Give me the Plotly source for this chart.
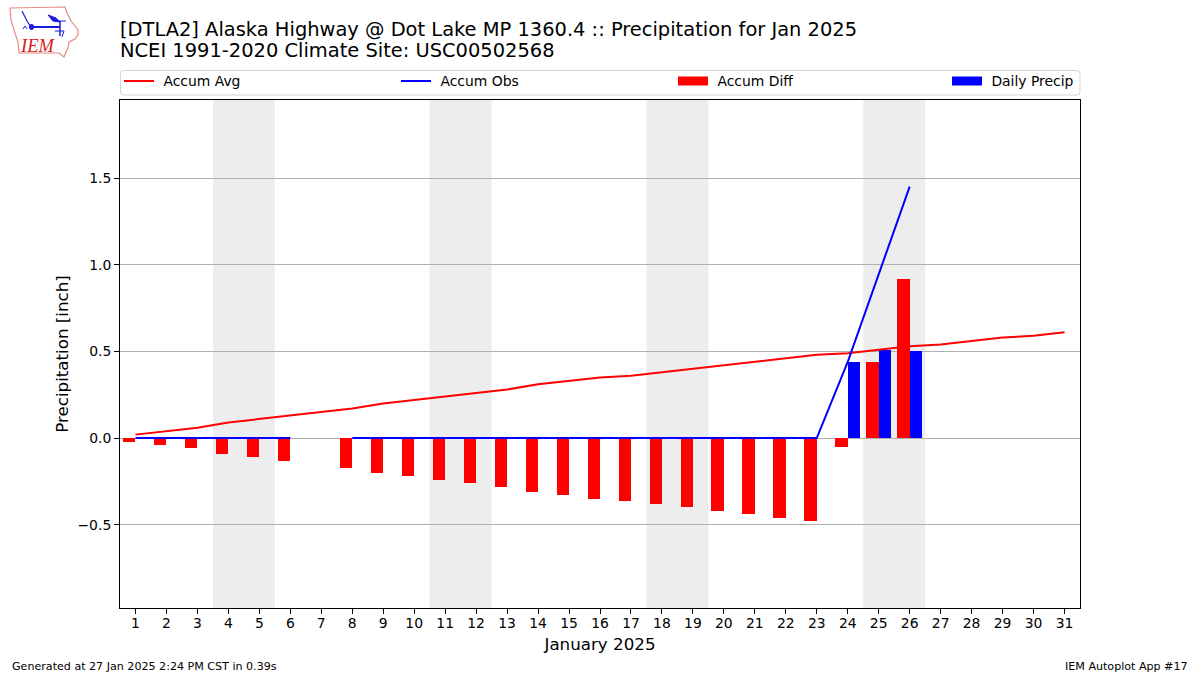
import plotly.graph_objects as go

days = list(range(1, 32))
tick_labels = [str(d) for d in days]
accum_avg = [0.02,0.04,0.06,0.09,0.11,0.13,0.15,0.17,0.20,0.22,0.24,0.26,0.28,0.31,0.33,0.35,0.36,0.38,0.40,0.42,0.44,0.46,0.48,0.49,0.51,0.53,0.54,0.56,0.58,0.59,0.61]
accum_obs = [0,0,0,0,0,0,None,0,0,0,0,0,0,0,0,0,0,0,0,0,0,0,0,0.44,0.95,1.45,None,None,None,None,None]
accum_diff = [-0.02,-0.04,-0.06,-0.09,-0.11,-0.13,None,-0.17,-0.20,-0.22,-0.24,-0.26,-0.28,-0.31,-0.33,-0.35,-0.36,-0.38,-0.40,-0.42,-0.44,-0.46,-0.48,-0.05,0.44,0.92,None,None,None,None,None]
daily_precip = [0,0,0,0,0,0,None,0,0,0,0,0,0,0,0,0,0,0,0,0,0,0,0,0.44,0.51,0.50,None,None,None,None,None]
weekends = [(3.5,5.5),(10.5,12.5),(17.5,19.5),(24.5,26.5)]
y_ticks = [-0.5,0,0.5,1.0,1.5]
y_tick_labels = ["\u22120.5","0.0","0.5","1.0","1.5"]
title_lines = ["[DTLA2] Alaska Highway @ Dot Lake MP 1360.4 :: Precipitation for Jan 2025","NCEI 1991-2020 Climate Site: USC00502568"]

FONT = "DejaVu Sans"
W, H = 1200, 675
L, R, T, B = 120, 1080, 100, 608

def px(x): return (x - L) / (R - L)
def py(y): return (B - y) / (B - T)

fig = go.Figure()
fig.add_trace(go.Bar(x=days, y=accum_diff, width=0.4, offset=-0.4, marker=dict(color="#ff0000", line_width=0), showlegend=False))
fig.add_trace(go.Bar(x=days, y=daily_precip, width=0.4, offset=0, marker=dict(color="#0000ff", line_width=0), showlegend=False))
fig.add_trace(go.Scatter(x=days, y=accum_avg, mode="lines", line=dict(color="#ff0000", width=2), name="\u00a0Accum Avg", legend="legend"))
fig.add_trace(go.Scatter(x=days, y=accum_obs, mode="lines", line=dict(color="#0000ff", width=2), name="\u00a0Accum Obs", legend="legend2"))
fig.add_trace(go.Scatter(x=[None], y=[None], mode="lines", line=dict(color="#ff0000", width=9), name="\u00a0Accum Diff", legend="legend3"))
fig.add_trace(go.Scatter(x=[None], y=[None], mode="lines", line=dict(color="#0000ff", width=9), name="\u00a0Daily Precip", legend="legend4"))

shapes = []
for a, b in weekends:
    shapes.append(dict(type="rect", xref="x", yref="paper", x0=a, x1=b, y0=0, y1=1, fillcolor="#ededed", line_width=0, layer="below"))

def rrect(x0, y0, x1, y1, r):
    return (f"M{px(x0+r)},{py(y0)} L{px(x1-r)},{py(y0)} Q{px(x1)},{py(y0)} {px(x1)},{py(y0+r)} "
            f"L{px(x1)},{py(y1-r)} Q{px(x1)},{py(y1)} {px(x1-r)},{py(y1)} L{px(x0+r)},{py(y1)} "
            f"Q{px(x0)},{py(y1)} {px(x0)},{py(y1-r)} L{px(x0)},{py(y0+r)} Q{px(x0)},{py(y0)} {px(x0+r)},{py(y0)} Z")
shapes.append(dict(type="path", xref="paper", yref="paper", path=rrect(120.5, 70.5, 1080, 95, 3), line=dict(color="#d4d4d4", width=1), fillcolor="rgba(0,0,0,0)"))

def poly(points, color, width=1, fill="rgba(0,0,0,0)", close=False):
    d = "M" + " L".join(f"{px(x)},{py(y)}" for x, y in points) + (" Z" if close else "")
    return dict(type="path", xref="paper", yref="paper", path=d, line=dict(color=color, width=width), fillcolor=fill)
iowa = [(10,8),(65,7),(67,13),(71,21),(78,30),(78,35),(75,39),(69,42),(68,48),(66,52),(64,57),(59,53),(19,53),(18,42),(14,30),(11,20)]
shapes.append(poly(iowa, "#e48a8a", 1.2, close=True))
blue = "#1a1ae0"
shapes.append(poly([(31,27),(60,27)], blue, 2))
shapes.append(poly([(48,15),(56,18),(60,22),(53,21)], blue, 1, blue, True))
shapes.append(poly([(55,21),(66,21)], blue, 1))
shapes.append(poly([(60,21),(60,36)], blue, 1.5))
shapes.append(poly([(55,31),(64,31),(62,37)], blue, 1))
shapes.append(poly([(22,11),(27,21),(31,27)], blue, 1.2))
shapes.append(poly([(23,29),(25,26),(27,29)], blue, 1))
shapes.append(dict(type="circle", xref="paper", yref="paper", x0=px(29), x1=px(34), y0=py(30), y1=py(24), fillcolor=blue, line_width=0))

annotations = [
    dict(text="<i>IEM</i>", xref="paper", yref="paper", x=px(37.5), y=py(46), xanchor="center", yanchor="middle", showarrow=False, font=dict(family="Liberation Serif", size=18.5, color="#d82020")),
    dict(text=title_lines[0], xref="paper", yref="paper", x=0, y=py(29), xanchor="left", yanchor="middle", showarrow=False, font=dict(family=FONT, size=19.44, color="black"), xshift=-2),
    dict(text=title_lines[1], xref="paper", yref="paper", x=0, y=py(50.5), xanchor="left", yanchor="middle", showarrow=False, font=dict(family=FONT, size=19.44, color="black"), xshift=-2),
    dict(text="Generated at 27 Jan 2025 2:24 PM CST in 0.39s", xref="paper", yref="paper", x=px(12), y=py(666), xanchor="left", yanchor="middle", showarrow=False, font=dict(family=FONT, size=11.1, color="black"), xshift=-2),
    dict(text="IEM Autoplot App #17", xref="paper", yref="paper", x=px(1188), y=py(666), xanchor="right", yanchor="middle", showarrow=False, font=dict(family=FONT, size=11.1, color="black"), xshift=2),
]

def leg(x):
    return dict(x=px(x), y=py(81.5), xanchor="left", yanchor="middle", orientation="h", bgcolor="rgba(0,0,0,0)", borderwidth=0, font=dict(family=FONT, size=13.9, color="black"), itemwidth=30, itemclick=False, itemdoubleclick=False)

fig.update_layout(
    width=W, height=H, autosize=False,
    margin=dict(l=L, r=W-R, t=T, b=H-B, pad=0),
    paper_bgcolor="white", plot_bgcolor="white",
    barmode="overlay", bargap=0,
    showlegend=True, shapes=shapes, annotations=annotations,
    font=dict(family=FONT, size=13.9, color="black"),
    legend=leg(119), legend2=leg(396), legend3=leg(673), legend4=leg(947),
    xaxis=dict(range=[0.5,31.5], tickmode="array", tickvals=days, ticktext=tick_labels, showgrid=False, zeroline=False,
               showline=True, mirror=True, linecolor="black", linewidth=1, ticks="outside", ticklen=5, tickwidth=1, tickcolor="black",
               ticklabelstandoff=-3,
               tickfont=dict(family=FONT, size=13.9), tickangle=0,
               title=dict(text="January 2025", font=dict(family=FONT, size=16.7), standoff=8)),
    yaxis=dict(range=[-0.98,1.95], tickmode="array", tickvals=y_ticks, ticktext=y_tick_labels, showgrid=True, gridcolor="#b0b0b0", gridwidth=1, zeroline=False,
               showline=True, mirror=True, linecolor="black", linewidth=1, ticks="outside", ticklen=5, tickwidth=1, tickcolor="black",
               tickfont=dict(family=FONT, size=13.9),
               title=dict(text="Precipitation [inch]", font=dict(family=FONT, size=16.7), standoff=4)),
)
fig.write_html("out.html", config={"displayModeBar": False}, post_script="document.body.style.margin='0';")
